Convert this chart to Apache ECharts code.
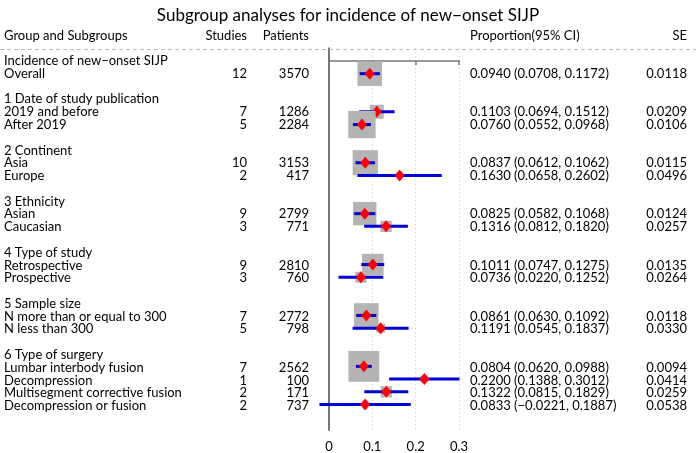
<!DOCTYPE html>
<html>
<head>
<meta charset="utf-8">
<script src="https://cdn.jsdelivr.net/npm/echarts@6/dist/echarts.min.js"></script>
<style>
  html, body { margin: 0; padding: 0; background: #fff; }
  #main { width: 696px; height: 453px; }
</style>
</head>
<body>
<div id="main"></div>
<script>
// 每一行的标签（含分组标题和空行）
const rowLabels = [
  'Incidence of new−onset SIJP', 'Overall', '',
  '1 Date of study publication', '2019 and before', 'After 2019', '',
  '2 Continent', 'Asia', 'Europe', '',
  '3 Ethnicity', 'Asian', 'Caucasian', '',
  '4 Type of study', 'Retrospective', 'Prospective', '',
  '5 Sample size', 'N more than or equal to 300', 'N less than 300', '',
  '6 Type of surgery', 'Lumbar interbody fusion', 'Decompression',
  'Multisegment corrective fusion', 'Decompression or fusion'
];
// 有估计值的行号
const estimateRows = [1, 4, 5, 8, 9, 12, 13, 16, 17, 20, 21, 24, 25, 26, 27];
const studies = [12, 7, 5, 10, 2, 9, 3, 9, 3, 7, 5, 7, 1, 2, 2];
const patients = [3570, 1286, 2284, 3153, 417, 2799, 771, 2810, 760, 2772, 798, 2562, 100, 171, 737];
const proportion = [0.0940, 0.1103, 0.0760, 0.0837, 0.1630, 0.0825, 0.1316, 0.1011, 0.0736, 0.0861, 0.1191, 0.0804, 0.2200, 0.1322, 0.0833];
const ciLower = [0.0708, 0.0694, 0.0552, 0.0612, 0.0658, 0.0582, 0.0812, 0.0747, 0.0220, 0.0630, 0.0545, 0.0620, 0.1388, 0.0815, -0.0221];
const ciUpper = [0.1172, 0.1512, 0.0968, 0.1062, 0.2602, 0.1068, 0.1820, 0.1275, 0.1252, 0.1092, 0.1837, 0.0988, 0.3012, 0.1829, 0.1887];
const se = [0.0118, 0.0209, 0.0106, 0.0115, 0.0496, 0.0124, 0.0257, 0.0135, 0.0264, 0.0118, 0.0330, 0.0094, 0.0414, 0.0259, 0.0538];
const headers = ['Group and Subgroups', 'Studies', 'Patients', 'Proportion(95% CI)', 'SE'];
const xTicks = [0, 0.1, 0.2, 0.3];

const FONT = 'Lato, "Noto Sans", sans-serif';
const FS = 13;
// 文字列的位置（像素）和对齐方式
const cols = [
  { x: 4, align: 'left' },
  { x: 247, align: 'right' },
  { x: 309, align: 'right' },
  { x: 470, align: 'left' },
  { x: 687, align: 'right' }
];

const fmt = v => v.toFixed(4).replace('-', '−');

// 组织文字单元
let cells = [];
headers.forEach((h, c) => cells.push([cols[c].x, -1.95, h, cols[c].align]));
rowLabels.forEach((t, r) => { if (t) cells.push([cols[0].x, r, t, 'left']) });
estimateRows.forEach((r, i) => {
  cells.push([cols[1].x, r, String(studies[i]), 'right']);
  cells.push([cols[2].x, r, String(patients[i]), 'right']);
  cells.push([cols[3].x, r, `${fmt(proportion[i])} (${fmt(ciLower[i])}, ${fmt(ciUpper[i])})`, 'left']);
  cells.push([cols[4].x, r, fmt(se[i]), 'right']);
});

const forestData = estimateRows.map((r, i) => [proportion[i], r, ciLower[i], ciUpper[i], se[i]]);

var myChart = echarts.init(document.getElementById('main'));
let o = {
  backgroundColor: '#fff',
  animation: false,
  title: {
    text: 'Subgroup analyses for incidence of new−onset SIJP',
    left: 'center', top: 2,
    textStyle: { fontFamily: FONT, fontSize: 17, fontWeight: 'normal', color: '#000' }
  },
  grid: [
    { left: 329, width: 130, top: 48.2, height: 383.4 },
    { left: 0, right: 0, top: 22.6, height: 408.9 }
  ],
  xAxis: [
    {
      gridIndex: 0, type: 'value', min: 0, max: 0.3, interval: 0.1,
      axisLine: { show: true, lineStyle: { color: '#777', width: 1.5 } },
      axisTick: { show: true, length: 4, lineStyle: { color: '#777', width: 1.5 } },
      axisLabel: {
        color: '#000', fontFamily: FONT, fontSize: FS, margin: 10,
        formatter: v => xTicks.includes(+v.toFixed(1)) ? String(+v.toFixed(1)) : ''
      },
      splitLine: { show: true, lineStyle: { color: '#c8c8c8', type: [1, 3], width: 1 } }
    },
    { gridIndex: 1, type: 'value', min: 0, max: 696, show: false }
  ],
  yAxis: [
    {
      gridIndex: 0, type: 'value', min: -1, max: 29, inverse: true,
      axisLine: { show: true, onZero: false, lineStyle: { color: '#777', width: 2 } },
      axisTick: { show: false }, axisLabel: { show: false }, splitLine: { show: false }
    },
    { gridIndex: 1, type: 'value', min: -3, max: 29, inverse: true, show: false }
  ],
  series: [
    {
      // 森林图：灰色方块 + 蓝色置信区间 + 红色菱形
      type: 'custom',
      xAxisIndex: 0, yAxisIndex: 0,
      clip: false,
      data: forestData,
      renderItem: function (params, api) {
        const c = api.coord([api.value(0), api.value(1)]);
        const l = api.coord([api.value(2), api.value(1)]);
        const h = api.coord([api.value(3), api.value(1)]);
        const s = 0.29 / api.value(4);
        return {
          type: 'group',
          children: [
            { type: 'rect', shape: { x: c[0] - s / 2, y: c[1] - s / 2, width: s, height: s }, style: { fill: '#b4b4b4' } },
            { type: 'line', shape: { x1: l[0], y1: c[1], x2: h[0], y2: c[1] }, style: { stroke: '#0000d8', lineWidth: 3 } },
            { type: 'polygon', shape: { points: [[c[0], c[1] - 6], [c[0] + 5, c[1]], [c[0], c[1] + 6], [c[0] - 5, c[1]]] }, style: { fill: '#ff0000' } }
          ]
        };
      }
    },
    {
      // 表格文字
      type: 'custom',
      xAxisIndex: 1, yAxisIndex: 1,
      clip: false,
      data: cells,
      renderItem: function (params, api) {
        const d = cells[params.dataIndex];
        const p = api.coord([d[0], d[1]]);
        return {
          type: 'text', x: p[0], y: p[1],
          style: { text: d[2], textAlign: d[3], textVerticalAlign: 'middle', fontFamily: FONT, fontSize: FS, fill: '#000' }
        };
      },
      markLine: {
        silent: true, symbol: 'none', label: { show: false },
        lineStyle: { color: '#bbb', type: [4, 3], width: 1 },
        data: [{ yAxis: -0.9 }]
      }
    }
  ]
};
myChart.setOption(o);
</script>
</body>
</html>
